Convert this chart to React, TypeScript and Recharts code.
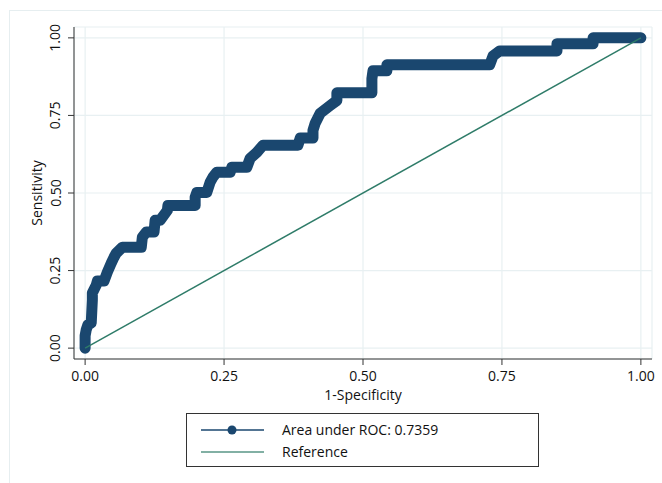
import * as React from "react";
import { CartesianGrid, Line, LineChart, XAxis, YAxis } from "recharts";

// ROC curve corners (1-specificity, sensitivity)
const rocFpr = [
  0, 0, 0.002, 0.005, 0.011, 0.013, 0.013, 0.02, 0.022, 0.034, 0.04, 0.047,
  0.052, 0.056, 0.067, 0.101, 0.103, 0.11, 0.124, 0.126, 0.135, 0.148, 0.149,
  0.198, 0.198, 0.201, 0.219, 0.225, 0.23, 0.237, 0.261, 0.264, 0.291, 0.297,
  0.309, 0.32, 0.383, 0.387, 0.41, 0.41, 0.414, 0.423, 0.441, 0.453, 0.453,
  0.516, 0.516, 0.518, 0.543, 0.543, 0.728, 0.734, 0.746, 0.849, 0.849, 0.914,
  0.914, 1.0,
];
const rocTpr = [
  0, 0.04, 0.059, 0.075, 0.081, 0.155, 0.178, 0.203, 0.216, 0.216, 0.245,
  0.274, 0.293, 0.306, 0.325, 0.325, 0.358, 0.374, 0.374, 0.412, 0.412, 0.444,
  0.46, 0.46, 0.486, 0.502, 0.502, 0.535, 0.551, 0.567, 0.567, 0.583, 0.583,
  0.612, 0.631, 0.654, 0.654, 0.677, 0.677, 0.702, 0.725, 0.757, 0.782, 0.798,
  0.823, 0.823, 0.868, 0.894, 0.894, 0.913, 0.913, 0.942, 0.958, 0.958, 0.981,
  0.981, 1.0, 1.0,
];
const refX = [0, 1];
const refY = [0, 1];
const ticks = [0, 0.25, 0.5, 0.75, 1];

const NAVY = "#1a476f";
const TEAL = "#2f7c69";
const FONT = "'Open Sans', sans-serif";

const rocData = rocFpr.map((x, i) => ({ x, y: rocTpr[i] }));
const refData = refX.map((x, i) => ({ x, y: refY[i] }));

function YTick({ y, payload }: any) {
  return (
    <text
      x={55}
      y={y}
      transform={`rotate(-90 55 ${y})`}
      textAnchor="middle"
      dominantBaseline="central"
      fontSize={14}
      fill="#111"
    >
      {Number(payload.value).toFixed(2)}
    </text>
  );
}

export default function App() {
  return (
    <div
      style={{
        position: "absolute",
        left: 0,
        top: 0,
        width: 662,
        height: 483,
        background: "#fff",
        fontFamily: FONT,
        overflow: "hidden",
      }}
    >
      <div
        style={{
          position: "absolute",
          left: 9,
          top: 10,
          width: 700,
          height: 500,
          border: "1px solid #e6eef0",
        }}
      />
      <LineChart
        width={662}
        height={483}
        margin={{ top: 27, right: 10, bottom: 94, left: 14 }}
        style={{ position: "absolute", left: 0, top: 0 }}
      >
        <CartesianGrid stroke="#e8f0f2" strokeWidth={1.2} />
        <XAxis
          type="number"
          dataKey="x"
          domain={[-0.02, 1.02]}
          ticks={ticks}
          tickFormatter={(v: number) => v.toFixed(2)}
          allowDataOverflow
          height={30}
          tickSize={6}
          tickMargin={6}
          axisLine={{ stroke: "#333" }}
          tickLine={{ stroke: "#333" }}
          tick={{ fill: "#111", fontSize: 14 }}
        />
        <YAxis
          type="number"
          dataKey="y"
          domain={[-0.035, 1.035]}
          ticks={ticks}
          allowDataOverflow
          width={60}
          tickSize={6}
          axisLine={{ stroke: "#333" }}
          tickLine={{ stroke: "#333" }}
          tick={<YTick />}
        />
        <Line
          data={rocData}
          dataKey="y"
          type="linear"
          stroke={NAVY}
          strokeWidth={11}
          strokeLinejoin="round"
          strokeLinecap="round"
          dot={false}
          isAnimationActive={false}
        />
        <Line
          data={refData}
          dataKey="y"
          type="linear"
          stroke={TEAL}
          strokeWidth={1.5}
          dot={false}
          isAnimationActive={false}
        />
      </LineChart>
      <div
        style={{
          position: "absolute",
          left: 4,
          top: 193,
          width: 66,
          textAlign: "center",
          transform: "translate(0, -50%) rotate(-90deg)",
          fontSize: 14,
          color: "#111",
          lineHeight: "16px",
        }}
      >
        Sensitivity
      </div>
      <div
        style={{
          position: "absolute",
          left: 263,
          top: 388,
          width: 200,
          textAlign: "center",
          fontSize: 14,
          color: "#111",
          lineHeight: "14px",
        }}
      >
        1-Specificity
      </div>
      <div
        style={{
          position: "absolute",
          left: 186,
          top: 413,
          width: 351,
          height: 52,
          border: "1px solid #333",
          boxSizing: "content-box",
        }}
      >
        <svg
          width={90}
          height={52}
          style={{ position: "absolute", left: 0, top: 0 }}
        >
          <line x1={14} x2={77} y1={16} y2={16} stroke={NAVY} strokeWidth={1.5} />
          <circle cx={45} cy={16} r={4.5} fill={NAVY} />
          <line x1={14} x2={77} y1={38} y2={38} stroke={TEAL} strokeWidth={1.5} opacity={0.8} />
        </svg>
        <div
          style={{
            position: "absolute",
            left: 95,
            top: 6,
            fontSize: 14,
            lineHeight: "20px",
            color: "#111",
            whiteSpace: "nowrap",
          }}
        >
          Area under ROC: 0.7359
        </div>
        <div
          style={{
            position: "absolute",
            left: 95,
            top: 28,
            fontSize: 14,
            lineHeight: "20px",
            color: "#111",
            whiteSpace: "nowrap",
          }}
        >
          Reference
        </div>
      </div>
    </div>
  );
}
